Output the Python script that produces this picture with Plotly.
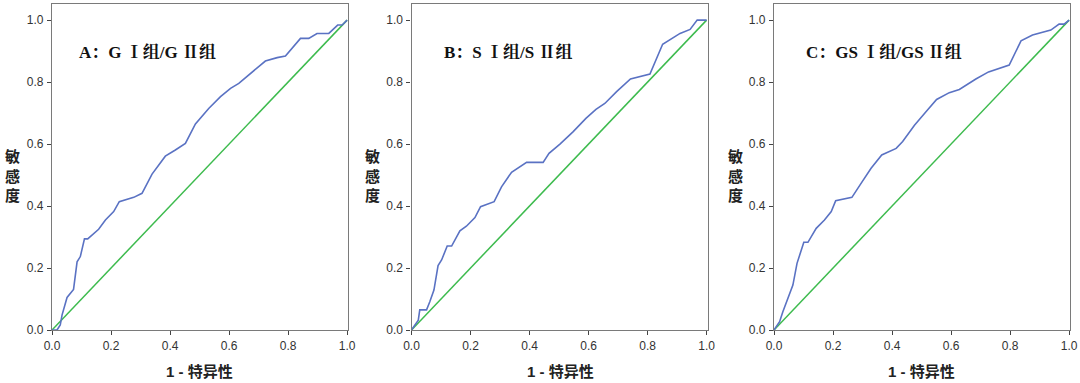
import plotly.graph_objects as go

# ---- Data ----
panel_titles = ["A：G Ⅰ组/G Ⅱ组", "B：S Ⅰ组/S Ⅱ组", "C：GS Ⅰ组/GS Ⅱ组"]
x_title = "1 - 特异性"
y_title = "敏感度"
tick_vals = [0.0, 0.2, 0.4, 0.6, 0.8, 1.0]
tick_text = ["0.0", "0.2", "0.4", "0.6", "0.8", "1.0"]

a_fpr = [0, 0.017, 0.028, 0.034, 0.051, 0.073, 0.085, 0.096, 0.11, 0.121, 0.158, 0.181, 0.209, 0.228,
         0.277, 0.305, 0.339, 0.384, 0.418, 0.452, 0.486, 0.531, 0.571, 0.605, 0.633, 0.678, 0.723,
         0.763, 0.791, 0.842, 0.870, 0.898, 0.938, 0.968, 0.983, 1.0]
a_tpr = [0, 0, 0.016, 0.048, 0.105, 0.131, 0.22, 0.237, 0.294, 0.294, 0.325, 0.355, 0.382, 0.414,
         0.428, 0.441, 0.503, 0.561, 0.581, 0.602, 0.665, 0.715, 0.753, 0.780, 0.796, 0.833, 0.868,
         0.879, 0.884, 0.941, 0.941, 0.957, 0.957, 0.984, 0.984, 1.0]

b_fpr = [0, 0.023, 0.028, 0.051, 0.062, 0.076, 0.090, 0.102, 0.121, 0.136, 0.164, 0.186, 0.215, 0.234,
         0.280, 0.305, 0.339, 0.390, 0.446, 0.466, 0.503, 0.548, 0.591, 0.625, 0.655, 0.695, 0.742,
         0.808, 0.851, 0.876, 0.910, 0.944, 0.968, 1.0]
b_tpr = [0, 0.032, 0.065, 0.065, 0.091, 0.129, 0.208, 0.226, 0.271, 0.271, 0.320, 0.335, 0.363, 0.398,
         0.414, 0.462, 0.509, 0.541, 0.541, 0.570, 0.600, 0.640, 0.683, 0.712, 0.731, 0.769, 0.810,
         0.826, 0.922, 0.938, 0.957, 0.970, 1.0, 1.0]

c_fpr = [0, 0.019, 0.030, 0.064, 0.078, 0.101, 0.115, 0.143, 0.171, 0.194, 0.209, 0.264, 0.295, 0.329,
         0.365, 0.414, 0.436, 0.476, 0.515, 0.551, 0.594, 0.628, 0.684, 0.727, 0.797, 0.837, 0.876,
         0.938, 0.966, 0.983, 1.0]
c_tpr = [0, 0.027, 0.059, 0.145, 0.215, 0.283, 0.283, 0.328, 0.355, 0.382, 0.417, 0.428, 0.473, 0.522,
         0.565, 0.586, 0.608, 0.661, 0.704, 0.744, 0.766, 0.776, 0.810, 0.833, 0.855, 0.933, 0.952,
         0.968, 0.987, 0.987, 1.0]

ref_line = [0.0, 1.0]

curves = [(a_fpr, a_tpr), (b_fpr, b_tpr), (c_fpr, c_tpr)]

# ---- Layout geometry ----
W, H = 1080, 383
x_domains = [(52 / W, 348 / W), (411.5 / W, 707.5 / W), (774 / W, 1070 / W)]
y_domain = ((H - 330) / H, (H - 4) / H)
title_centers = [147, 508, 884]
xtitle_centers = [199, 560, 921]
ytitle_x = [12, 372, 735]

blue = "#5a72c3"
green = "#3dbb4e"
frame = "#7a7a7a"

fig = go.Figure()
for i, (fx, fy) in enumerate(curves):
    sfx = "" if i == 0 else str(i + 1)
    fig.add_trace(go.Scatter(x=ref_line, y=ref_line, mode="lines",
                             line=dict(color=green, width=1.5),
                             xaxis="x" + sfx, yaxis="y" + sfx, showlegend=False))
    fig.add_trace(go.Scatter(x=fx, y=fy, mode="lines",
                             line=dict(color=blue, width=1.6),
                             xaxis="x" + sfx, yaxis="y" + sfx, showlegend=False))

axis_common = dict(
    showgrid=False, zeroline=False, showline=True, linecolor=frame, linewidth=1.2,
    mirror=True, ticks="outside", ticklen=4, tickcolor="#444", tickwidth=1,
    tickvals=tick_vals, ticktext=tick_text, automargin=False,
    tickfont=dict(family="Liberation Sans, Arial, sans-serif", size=12, color="#333333"),
)

layout = dict(
    width=W, height=H, margin=dict(l=0, r=0, t=0, b=0, autoexpand=False),
    paper_bgcolor="white", plot_bgcolor="white",
)
annotations = []
for i in range(3):
    sfx = "" if i == 0 else str(i + 1)
    layout["xaxis" + sfx] = dict(axis_common, domain=list(x_domains[i]), range=[0, 1.003],
                                 anchor="y" + sfx)
    layout["yaxis" + sfx] = dict(axis_common, domain=list(y_domain), range=[0, 1.052],
                                 anchor="x" + sfx, ticklabelstandoff=1)
    annotations.append(dict(
        text="<b>" + panel_titles[i] + "</b>", x=title_centers[i] / W, y=1 - 52 / H,
        xref="paper", yref="paper", showarrow=False, xanchor="center", yanchor="middle",
        font=dict(family="Liberation Serif, Times New Roman, Noto Serif CJK SC, serif", size=17,
                  color="#111111")))
    annotations.append(dict(
        text="<b>" + x_title + "</b>", x=xtitle_centers[i] / W, y=1 - 371 / H,
        xref="paper", yref="paper", showarrow=False, xanchor="center", yanchor="middle",
        font=dict(family="Liberation Sans, Arial, Noto Sans CJK SC, sans-serif", size=15,
                  color="#222222")))
    annotations.append(dict(
        text="<b>" + "<br>".join(list(y_title)) + "</b>", x=ytitle_x[i] / W, y=1 - 175 / H,
        xref="paper", yref="paper", showarrow=False, xanchor="center", yanchor="middle",
        font=dict(family="Noto Sans CJK SC, sans-serif", size=15, color="#222222")))
layout["annotations"] = annotations
fig.update_layout(**layout)

fig.write_html("out.html", config={"displayModeBar": False},
               post_script="document.body.style.margin='0';document.body.style.overflow='hidden';")
